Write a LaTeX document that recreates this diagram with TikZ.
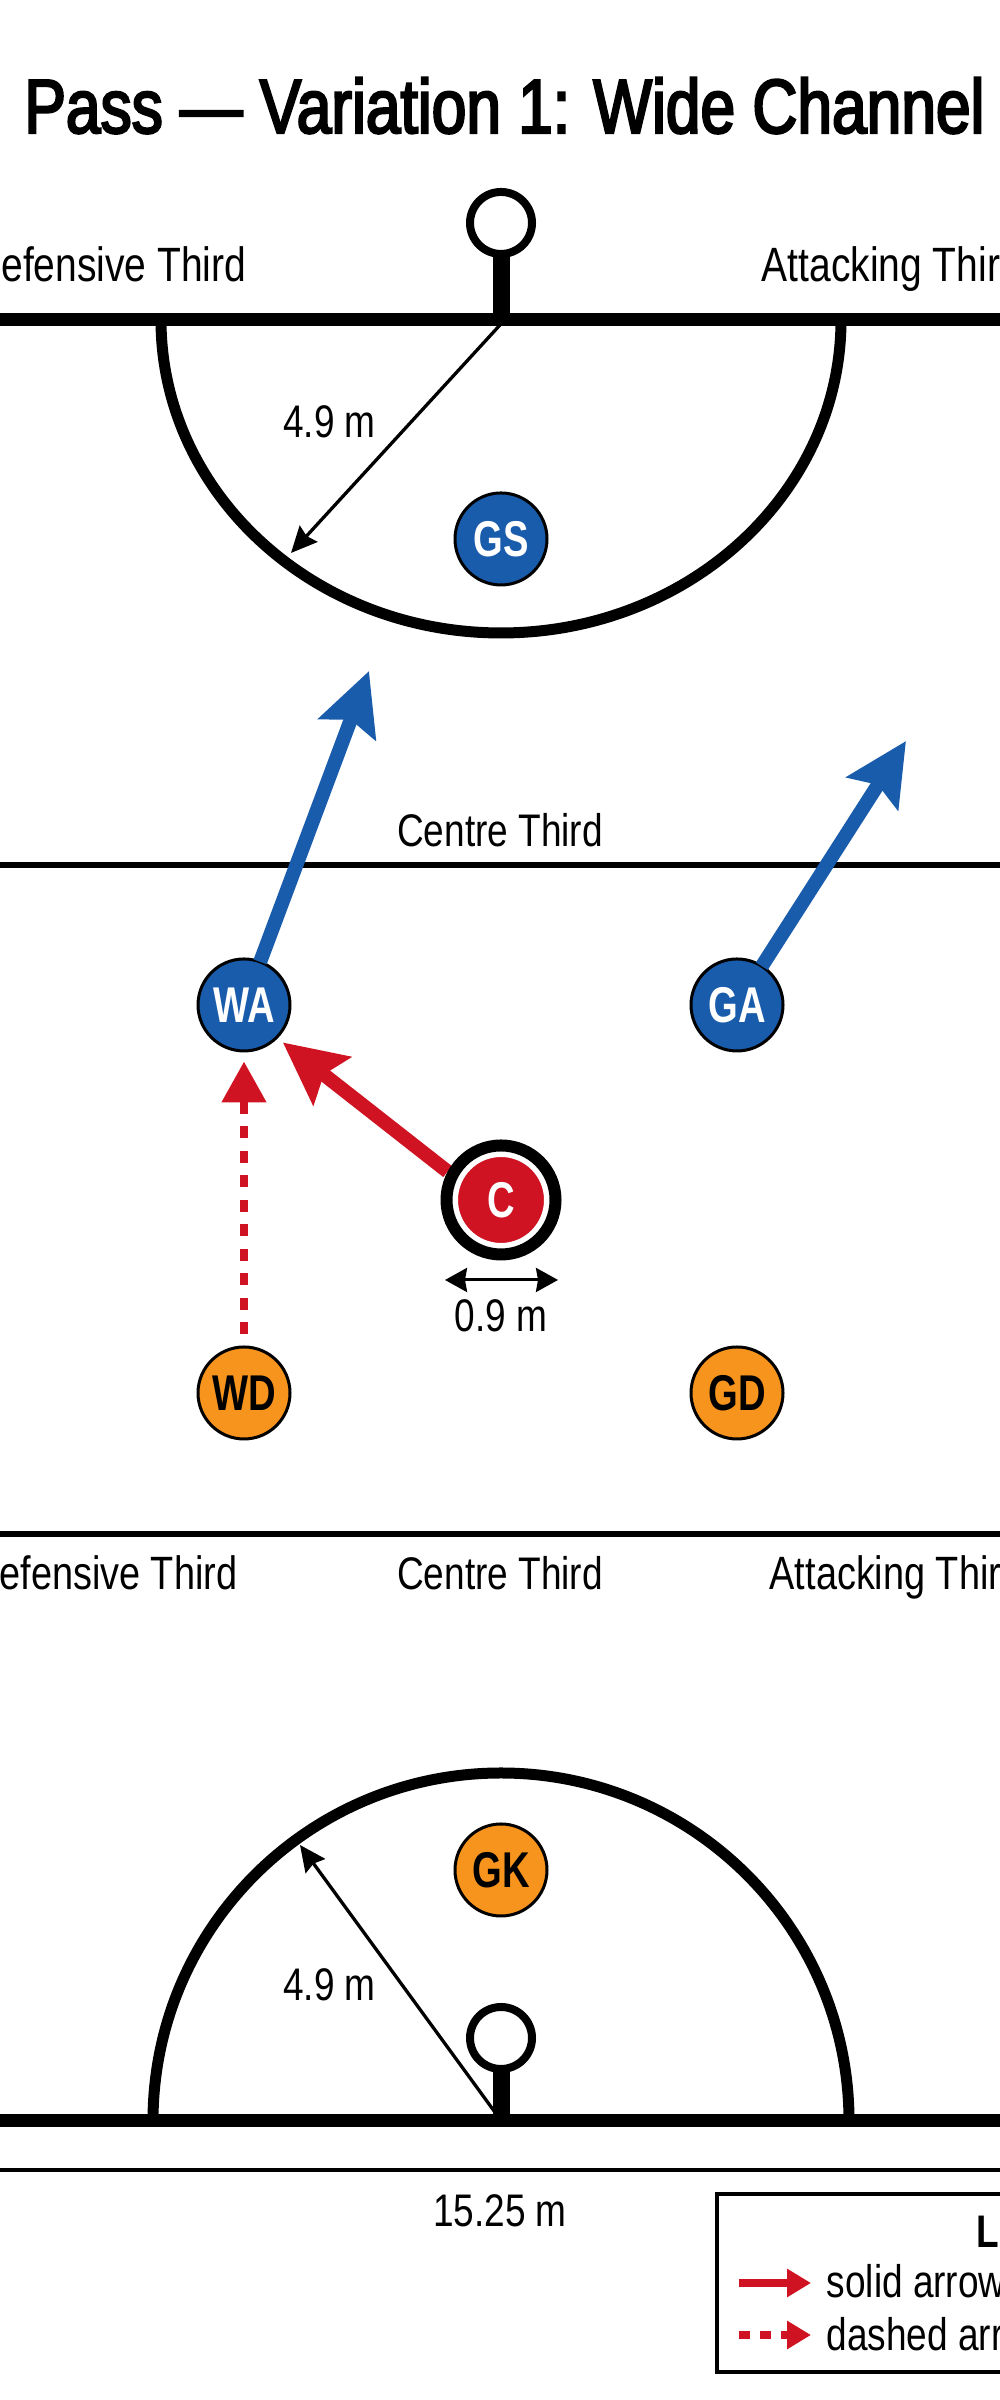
\documentclass[tikz,border=0pt]{standalone}
\usepackage{fontspec}
\setmainfont[FakeStretch=0.81]{Liberation Sans}
\newfontfamily\headfont[FakeStretch=0.76]{Liberation Sans}
\newfontfamily\titlefont[FakeStretch=0.813,FakeBold=3]{Liberation Sans}
\usetikzlibrary{arrows.meta}
\definecolor{teamblue}{HTML}{1A5CAC}
\definecolor{passred}{HTML}{CF1322}
\definecolor{teamorange}{HTML}{F7941D}
\tikzset{
	player/.style={circle,draw=black,line width=0.03cm,minimum size=0.92cm,inner sep=0pt,outer sep=0pt,font=\headfont\bfseries\fontsize{14.3}{14.3}\selectfont},
	zonelabel/.style={inner sep=0pt,font=\fontsize{13}{13}\selectfont},
	goalring/.style={circle,draw=black,fill=white,line width=0.08cm,minimum size=0.62cm,inner sep=0pt,outer sep=0pt},
	runblue/.style={draw=teamblue,line width=0.14cm,-{Stealth[length=0.62cm,width=0.6cm,inset=0.1cm]}},
	passsolid/.style={draw=passred,line width=0.14cm,-{Stealth[length=0.62cm,width=0.6cm,inset=0.1cm]}},
	passdashed/.style={draw=passred,line width=0.08cm,dash pattern=on 0.12cm off 0.125cm,-{Triangle[length=0.41cm,width=0.43cm]}},
	dimline/.style={line width=0.03cm,{Stealth[length=0.22cm,width=0.24cm,inset=0.02cm]}-{Stealth[length=0.22cm,width=0.24cm,inset=0.02cm]}},
	radiusline/.style={line width=0.033cm,-{Stealth[length=0.26cm,width=0.24cm,inset=0.03cm]}}
}
\begin{document}
\begin{tikzpicture}
			\useasboundingbox (0,0) rectangle (10,24);
			\clip (0,0) rectangle (10,24);
			\draw (5.045,22.67) node[anchor=base,inner sep=0pt,font=\titlefont\fontsize{21.8}{21.8}\selectfont] (title) {Pass — Variation 1: Wide Channel};
			\draw [line width=0.13cm] (-0.2,20.8) -- (10.2,20.8);
			\draw [line width=0.06cm] (-0.2,15.35) -- (10.2,15.35);
			\draw [line width=0.06cm] (-0.2,8.66) -- (10.2,8.66);
			\draw [line width=0.13cm] (-0.2,2.79) -- (10.2,2.79);
			\draw [line width=0.04cm] (-0.2,2.3) -- (10.2,2.3);
			\draw [line width=0.11cm] (1.61,20.8) arc [start angle=180,end angle=360,x radius=3.4,y radius=3.13];
			\draw [line width=0.11cm] (1.53,2.79) arc [start angle=180,end angle=0,radius=3.48];
			\coordinate (postT) at (5.01,20.8);
			\coordinate (postB) at (5.01,2.79);
			\draw (5.01,21.77) node[goalring] (ringT) {};
			\draw (5.01,3.62) node[goalring] (ringB) {};
			\draw [line width=0.17cm] (ringT) -- (postT);
			\draw [line width=0.17cm] (ringB) -- (postB);
			\draw (2.47,21.18) node[zonelabel,anchor=base east,font=\fontsize{13.7}{13.7}\selectfont] (defT) {Defensive Third};
			\draw (7.61,21.18) node[zonelabel,anchor=base west,font=\fontsize{13.7}{13.7}\selectfont] (attT) {Attacking Third};
			\draw (5,15.53) node[zonelabel,anchor=base] (cenT) {Centre Third};
			\draw (2.38,8.1) node[zonelabel,anchor=base east,font=\fontsize{13.3}{13.3}\selectfont] (defB) {Defensive Third};
			\draw (5,8.1) node[zonelabel,anchor=base] (cenB) {Centre Third};
			\draw (7.69,8.1) node[zonelabel,anchor=base west,font=\fontsize{13.3}{13.3}\selectfont] (attB) {Attacking Third};
			\draw (5.01,18.61) node[player,fill=teamblue,text=white] (GS) {GS};
			\draw (2.44,13.95) node[player,fill=teamblue,text=white] (WA) {WA};
			\draw (7.37,13.95) node[player,fill=teamblue,text=white] (GA) {GA};
			\draw (2.44,10.07) node[player,fill=teamorange] (WD) {WD};
			\draw (7.37,10.07) node[player,fill=teamorange] (GD) {GD};
			\draw (5.01,5.3) node[player,fill=teamorange] (GK) {GK};
			\draw (5.01,12) node[player,fill=passred,text=white,draw=white,line width=0.05cm,minimum size=0.91cm,outer sep=0.15cm] (C) {C};
			\coordinate (tipWA) at (3.69,17.29);
			\coordinate (tipGA) at (9.06,16.59);
			\draw [runblue] (WA) -- (tipWA);
			\draw [runblue] (GA) -- (tipGA);
			\draw [passsolid,shorten >=0.08cm] (C.152) -- (WA.-45);
			\draw [passdashed,shorten <=0.125cm,shorten >=0.105cm] (WD) -- (WA);
			\draw [line width=0.12cm] (5.01,12) circle (0.545);
			\coordinate (dimL) at (4.45,11.2);
			\coordinate (dimR) at (5.58,11.2);
			\draw [dimline] (dimL) -- (dimR);
			\draw (5.01,10.68) node[zonelabel,anchor=base] (dimC) {0.9 m};
			\coordinate (apexT) at (5,20.75);
			\coordinate (arcT) at (2.91,18.47);
			\draw [radiusline] (apexT) -- (arcT);
			\draw (3.295,19.62) node[zonelabel,anchor=base] (radT) {4.9 m};
			\coordinate (apexB) at (4.97,2.85);
			\coordinate (arcB) at (3,5.55);
			\draw [radiusline] (apexB) -- (arcB);
			\draw (3.295,3.99) node[zonelabel,anchor=base] (radB) {4.9 m};
			\draw (5,1.73) node[zonelabel,anchor=base] (width) {15.25 m};
			\draw [line width=0.035cm] (7.17,2.06) rectangle (10.5,0.28);
			\draw (9.76,1.52) node[zonelabel,anchor=base west,font=\bfseries\fontsize{13}{13}\selectfont] (legend) {LEGEND};
			\coordinate (solidA) at (7.39,1.17);
			\coordinate (solidB) at (8.11,1.17);
			\coordinate (dashA) at (7.39,0.65);
			\coordinate (dashB) at (8.11,0.65);
			\draw [draw=passred,line width=0.08cm,-{Triangle[length=0.24cm,width=0.27cm]}] (solidA) -- (solidB);
			\draw [draw=passred,line width=0.08cm,dash pattern=on 0.11cm off 0.1cm,-{Triangle[length=0.24cm,width=0.27cm]}] (dashA) -- (dashB);
			\draw (8.26,1.02) node[zonelabel,anchor=base west] (solidT) {solid arrow};
			\draw (8.26,0.5) node[zonelabel,anchor=base west] (dashT) {dashed arrow};
		\end{tikzpicture}
\end{document}
